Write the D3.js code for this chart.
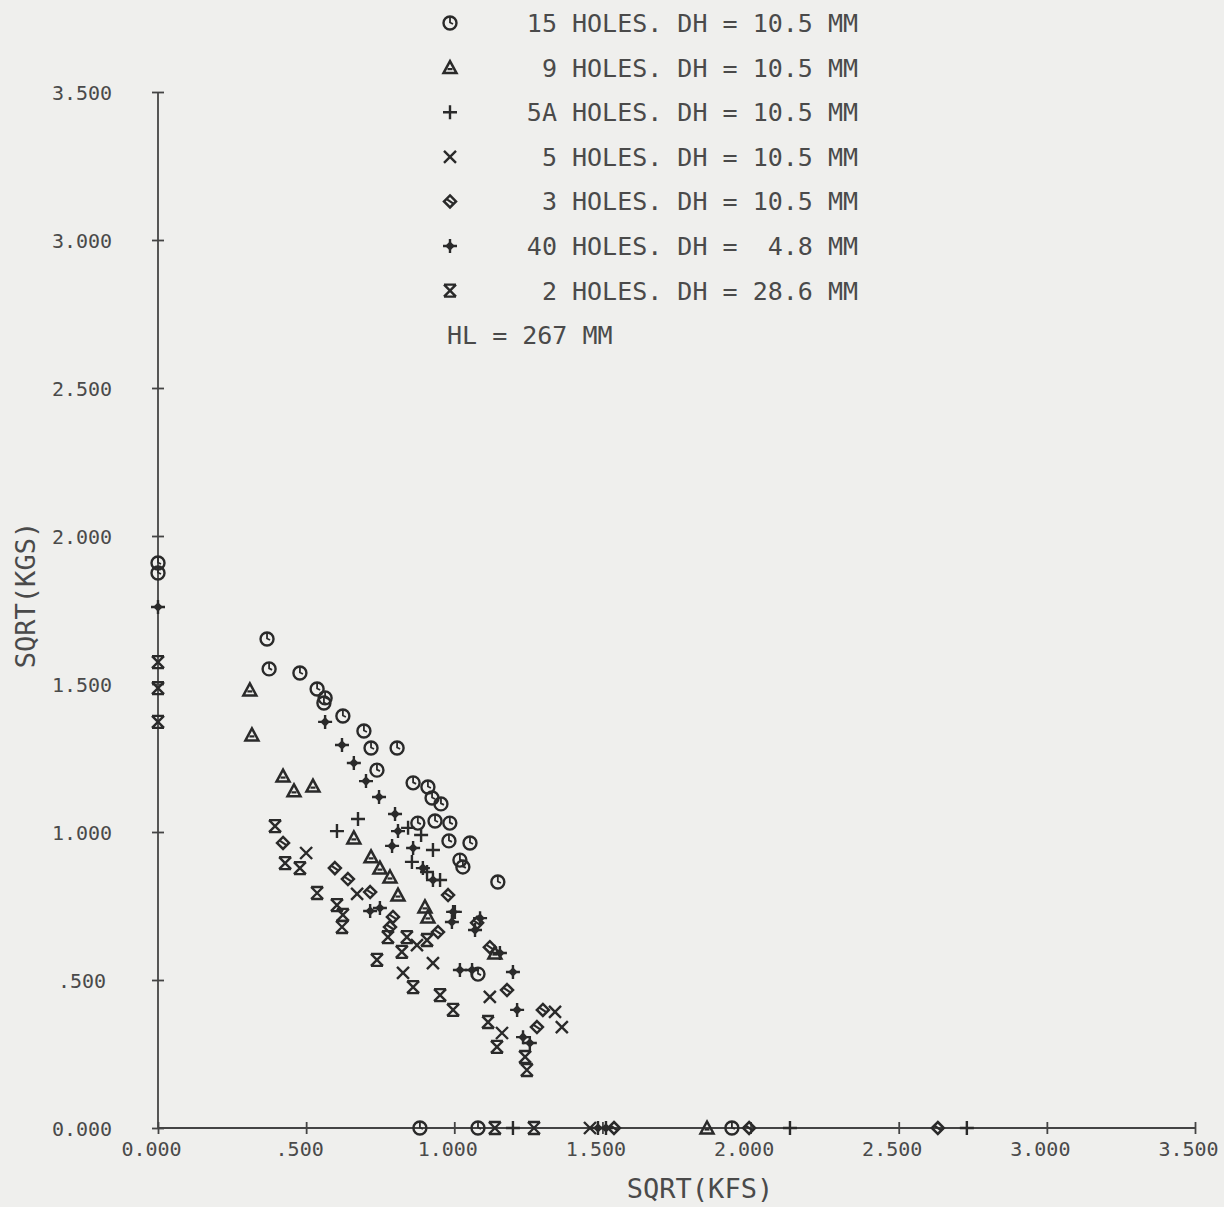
<!DOCTYPE html>
<html>
<head>
<meta charset="utf-8">
<script src="https://cdn.jsdelivr.net/npm/d3@7"></script>
<style>
  html, body { margin: 0; padding: 0; background: #efefed; }
  svg { display: block; }
  text { font-family: "DejaVu Sans Mono", monospace; fill: #4a4a4a; white-space: pre; }
</style>
</head>
<body>
<svg id="chart" width="1224" height="1207"></svg>
<script>
// ---------- data (SQRT(KFS), SQRT(KGS)) ----------
const holes15 = [[0.368,1.652],[0.375,1.551],[0.479,1.537],[0.537,1.483],[0.564,1.453],[0.560,1.436],[0.624,1.392],[0.695,1.341],[0.719,1.284],[0.807,1.284],[0.739,1.209],[0.861,1.166],[0.911,1.152],[0.925,1.115],[0.955,1.095],[0.877,1.030],[0.935,1.037],[0.985,1.030],[0.982,0.970],[1.053,0.963],[1.019,0.905],[1.029,0.882],[1.147,0.831],[1.080,0.520],[0.884,0],[1.080,0],[1.937,0],[0,1.909],[0,1.875]];
const holes9 = [[0.310,1.480],[0.317,1.328],[0.422,1.189],[0.459,1.139],[0.523,1.155],[0.661,0.980],[0.719,0.916],[0.749,0.878],[0.783,0.848],[0.810,0.787],[0.901,0.747],[0.911,0.713],[1.137,0.591],[1.853,0]];
const holes5A = [[0.604,1.003],[0.675,1.044],[0.844,1.014],[0.888,0.990],[0.857,0.899],[0.928,0.939],[0.908,0.865],[0.952,0.838],[1.002,0.730],[1.198,0],[2.133,0],[2.730,0]];
const holes5 = [[0.500,0.929],[0.672,0.791],[0.874,0.618],[0.928,0.557],[0.827,0.524],[1.120,0.443],[1.161,0.321],[1.340,0.392],[1.363,0.341],[1.458,0]];
const holes3 = [[0.422,0.963],[0.597,0.878],[0.641,0.841],[0.716,0.797],[0.793,0.713],[0.783,0.679],[0.945,0.662],[0.979,0.787],[1.077,0.693],[1.120,0.611],[1.178,0.466],[1.299,0.399],[1.279,0.341],[1.539,0],[1.995,0],[2.632,0]];
const holes40 = [[0.564,1.372],[0.621,1.294],[0.661,1.233],[0.702,1.172],[0.746,1.118],[0.800,1.061],[0.810,1.003],[0.790,0.953],[0.861,0.946],[0.894,0.878],[0.928,0.838],[0.716,0.733],[0.749,0.743],[0.996,0.730],[0.992,0.696],[1.087,0.709],[1.070,0.669],[1.019,0.534],[1.060,0.534],[1.154,0.591],[1.198,0.527],[1.212,0.399],[1.255,0.287],[1.232,0.307],[1.485,0],[1.512,0],[0,1.760]];
const holes2 = [[0.395,1.020],[0.429,0.895],[0.479,0.878],[0.537,0.794],[0.604,0.753],[0.624,0.720],[0.621,0.679],[0.739,0.568],[0.776,0.645],[0.840,0.645],[0.908,0.635],[0.823,0.595],[0.861,0.476],[0.952,0.449],[0.996,0.399],[1.114,0.358],[1.144,0.274],[1.239,0.240],[1.245,0.196],[1.137,0],[1.269,0],[0,1.574],[0,1.486],[0,1.372]];

const legendLabels = ["15 HOLES. DH = 10.5 MM"," 9 HOLES. DH = 10.5 MM","5A HOLES. DH = 10.5 MM"," 5 HOLES. DH = 10.5 MM"," 3 HOLES. DH = 10.5 MM","40 HOLES. DH =  4.8 MM"," 2 HOLES. DH = 28.6 MM"];
const noteLabel = "HL = 267 MM";
const xTicks = [0, 0.5, 1, 1.5, 2, 2.5, 3, 3.5];
const xTickLabels = ["0.000", ".500", "1.000", "1.500", "2.000", "2.500", "3.000", "3.500"];
const yTicks = [0, 0.5, 1, 1.5, 2, 2.5, 3, 3.5];
const yTickLabels = ["0.000", ".500", "1.000", "1.500", "2.000", "2.500", "3.000", "3.500"];
const xTitle = "SQRT(KFS)";
const yTitle = "SQRT(KGS)";

// ---------- layout ----------
const svg = d3.select("#chart");
const x = d3.scaleLinear().domain([0, 3.5]).range([158, 1195]);
const y = d3.scaleLinear().domain([0, 3.5]).range([1128, 92]);
const ink = "#2a2a2a";

// marker shapes
const shapes = {
  circle: g => {
    g.append("circle").attr("r", 6.5).attr("fill", "none").attr("stroke", ink).attr("stroke-width", 2.4);
    g.append("path").attr("d", "M0,-6 L0,-0.5 L3,1").attr("fill", "none").attr("stroke", ink).attr("stroke-width", 1.8);
  },
  triangle: g => {
    g.append("path").attr("d", "M0,-6.5 L6.5,5.5 L-6.5,5.5 Z").attr("fill", "none").attr("stroke", ink).attr("stroke-width", 2.5);
    g.append("path").attr("d", "M-2.5,1.5 H2.5").attr("stroke", ink).attr("stroke-width", 2.2);
  },
  plus: g => {
    g.append("path").attr("d", "M-7,0 H7 M0,-7 V7").attr("fill", "none").attr("stroke", ink).attr("stroke-width", 2.4);
  },
  cross: g => {
    g.append("path").attr("d", "M-6,-6 L6,6 M6,-6 L-6,6").attr("fill", "none").attr("stroke", ink).attr("stroke-width", 2.4);
  },
  diamond: g => {
    g.append("path").attr("d", "M0,-6 L6,0 L0,6 L-6,0 Z").attr("fill", "none").attr("stroke", ink).attr("stroke-width", 2.5);
    g.append("path").attr("d", "M-3,-2 L3,2").attr("stroke", ink).attr("stroke-width", 2.2);
  },
  star: g => {
    g.append("path").attr("d", "M-7,0 H7 M0,-7 V7").attr("fill", "none").attr("stroke", ink).attr("stroke-width", 2.4);
    g.append("path").attr("d", "M0,-4.8 L4.8,0 L0,4.8 L-4.8,0 Z").attr("fill", ink);
  },
  hourglass: g => {
    g.append("path").attr("d", "M-6,-6 H6 M-6,6 H6 M-6,-6 L6,6 M6,-6 L-6,6").attr("fill", "none").attr("stroke", ink).attr("stroke-width", 2.4);
  }
};

const series = [
  {data: holes15, shape: "circle"},
  {data: holes9, shape: "triangle"},
  {data: holes5A, shape: "plus"},
  {data: holes5, shape: "cross"},
  {data: holes3, shape: "diamond"},
  {data: holes40, shape: "star"},
  {data: holes2, shape: "hourglass"}
];

// ---------- axes ----------
const xAxis = d3.axisBottom(x).tickValues(xTicks).tickSize(6).tickPadding(0)
  .tickFormat((d, i) => xTickLabels[i]);
const gx = svg.append("g").attr("transform", `translate(0,${y(0)})`).call(xAxis);
gx.select(".domain").attr("stroke", "#444").attr("stroke-width", 1.8).attr("d", `M${x(0)},0H${x(3.5)}`);
gx.selectAll(".tick line").attr("y1", -6).attr("y2", 6).attr("stroke", "#444").attr("stroke-width", 1.8);
gx.selectAll(".tick text").attr("y", 28).attr("dy", null).attr("dx", -7)
  .style("font-family", "'DejaVu Sans Mono', monospace").style("font-size", "20px").attr("fill", "#4a4a4a");

const yAxis = d3.axisLeft(y).tickValues(yTicks).tickSize(6).tickPadding(0)
  .tickFormat((d, i) => yTickLabels[i]);
const gy = svg.append("g").attr("transform", `translate(${x(0)},0)`).call(yAxis);
gy.select(".domain").attr("stroke", "#444").attr("stroke-width", 1.8).attr("d", `M0,${y(3.5)}V${y(0)}`);
gy.selectAll(".tick line").attr("x1", -6).attr("x2", 6).attr("stroke", "#444").attr("stroke-width", 1.8);
gy.selectAll(".tick text").attr("x", -76).attr("text-anchor", "middle").attr("dy", "0.36em")
  .style("font-family", "'DejaVu Sans Mono', monospace").style("font-size", "20px").attr("fill", "#4a4a4a");

// axis titles
svg.append("text").attr("x", 700).attr("y", 1198).attr("text-anchor", "middle")
  .style("font-size", "27px").text(xTitle);
svg.append("text").attr("transform", "translate(35,595) rotate(-90)").attr("text-anchor", "middle")
  .style("font-size", "27px").text(yTitle);

// ---------- points ----------
series.forEach(s => {
  svg.append("g").selectAll("g").data(s.data).join("g")
    .attr("transform", d => `translate(${x(d[0])},${y(d[1])})`)
    .each(function () { shapes[s.shape](d3.select(this)); });
});

// ---------- legend ----------
const legendTop = 23, legendStep = 44.6;
legendLabels.forEach((lab, i) => {
  const cy = legendTop + i * legendStep;
  const g = svg.append("g").attr("transform", `translate(450,${cy})`);
  shapes[series[i].shape](g);
  svg.append("text").attr("x", 858).attr("y", cy).attr("dy", "0.36em").attr("text-anchor", "end")
    .style("font-size", "25px").text(lab);
});
svg.append("text").attr("x", 447).attr("y", legendTop + 7 * legendStep).attr("dy", "0.36em")
  .style("font-size", "25px").text(noteLabel);
</script>
</body>
</html>
